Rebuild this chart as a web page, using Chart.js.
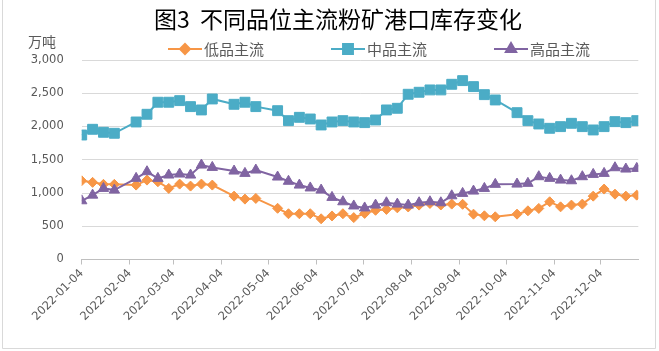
<!DOCTYPE html>
<html>
<head>
<meta charset="utf-8">
<script src="https://cdn.jsdelivr.net/npm/chart.js@4.4.0/dist/chart.umd.min.js"></script>
<style>
  html, body { margin: 0; padding: 0; background: #fff; }
  #wrap { width: 659px; height: 351px; }
</style>
</head>
<body>
<div id="wrap"><canvas id="chart" width="659" height="351"></canvas></div>
<script>
// days counted from 2022-01-04 (weekly, with holiday gaps)
const days = [0, 7, 14, 21, 35, 42, 49, 56, 63, 70, 77, 84, 98, 105, 112,
  126, 133, 140, 147, 154, 161, 168, 175, 182, 189, 196, 203, 210, 217, 224, 231, 238, 245, 252, 259, 266,
  280, 287, 294, 301, 308, 315, 322, 329, 336, 343, 350, 357];

const lowGrade = [1184, 1160, 1130, 1130, 1119, 1194, 1169, 1069, 1134, 1104, 1134, 1119, 953, 908, 918,
  770, 688, 688, 688, 612, 655, 688, 630, 693, 740, 753, 777, 790, 818, 843, 820, 833, 830, 682, 657, 642,
  682, 732, 768, 868, 792, 818, 833, 953, 1059, 983, 953, 968];

const midGrade = [1872, 1958, 1913, 1898, 2068, 2184, 2365, 2365, 2389, 2299, 2249, 2414, 2334, 2365, 2299,
  2238, 2088, 2138, 2113, 2023, 2068, 2088, 2068, 2058, 2098, 2249, 2274, 2485, 2515, 2550, 2550, 2635, 2690, 2600, 2479, 2399,
  2208, 2088, 2038, 1973, 1998, 2048, 1998, 1948, 1998, 2073, 2058, 2088];

const highGrade = [883, 968, 1069, 1044, 1220, 1320, 1220, 1270, 1285, 1270, 1420, 1385, 1330, 1295, 1345,
  1240, 1176, 1119, 1076, 1044, 934, 868, 805, 775, 818, 853, 833, 818, 853, 868, 853, 958, 994, 1029, 1069, 1130,
  1134, 1145, 1245, 1220, 1194, 1184, 1245, 1280, 1295, 1380, 1360, 1370];

const monthTicks = [0, 31, 59, 90, 120, 151, 181, 212, 243, 273, 304, 334];
const monthLabels = ['2022-01-04', '2022-02-04', '2022-03-04', '2022-04-04', '2022-05-04', '2022-06-04',
  '2022-07-04', '2022-08-04', '2022-09-04', '2022-10-04', '2022-11-04', '2022-12-04'];

const seriesNames = ['低品主流', '中品主流', '高品主流'];
const titleText = '图3  不同品位主流粉矿港口库存变化';
const unitText = '万吨';

const toPoints = vals => vals.map((v, i) => ({ x: days[i], y: v }));

const tickFont = { family: 'DejaVu Sans', size: 11.5 };
const cjk = '"Noto Sans CJK SC", sans-serif';

// title, unit, legend and frame drawn the way the excel chart does
const decorPlugin = {
  id: 'decor',
  beforeDraw(chart) {
    const ctx = chart.ctx;
    ctx.save();
    ctx.fillStyle = '#fff';
    ctx.fillRect(0, 0, chart.width, chart.height);
    ctx.strokeStyle = '#d9d9d9';
    ctx.lineWidth = 1;
    ctx.beginPath();
    ctx.moveTo(2.5, 0);
    ctx.lineTo(2.5, 348.5);
    ctx.lineTo(655.5, 348.5);
    ctx.lineTo(655.5, 0);
    ctx.stroke();
    ctx.restore();
  },
  afterDraw(chart) {
    const ctx = chart.ctx;
    ctx.save();
    ctx.fillStyle = '#000';
    ctx.font = '23px ' + cjk;
    ctx.textAlign = 'center';
    ctx.textBaseline = 'middle';
    ctx.fillText(titleText, 338, 19);

    ctx.fillStyle = '#595959';
    ctx.font = '14px ' + cjk;
    ctx.textAlign = 'left';
    ctx.fillText(unitText, 28, 42);

    const legendX = [168, 331, 494];
    const ly = 49;
    chart.data.datasets.forEach((ds, i) => {
      const x0 = legendX[i];
      ctx.strokeStyle = ds.borderColor;
      ctx.lineWidth = 2;
      ctx.beginPath();
      ctx.moveTo(x0, ly);
      ctx.lineTo(x0 + 34, ly);
      ctx.stroke();
      ctx.fillStyle = ds.pointBackgroundColor;
      ctx.strokeStyle = ds.pointBorderColor;
      Chart.helpers.drawPoint(ctx, { pointStyle: ds.pointStyle, radius: ds.pointRadius, rotation: 0, borderWidth: 1 }, x0 + 17, ly);
      ctx.fillStyle = '#595959';
      ctx.font = '15px ' + cjk;
      ctx.textAlign = 'left';
      ctx.textBaseline = 'middle';
      ctx.fillText(ds.label, x0 + 36, ly);
    });
    ctx.restore();
  }
};

function makeSeries(label, vals, color, style, radius, order) {
  return {
    label: label,
    data: toPoints(vals),
    borderColor: color,
    backgroundColor: color,
    pointBackgroundColor: color,
    pointBorderColor: color,
    borderWidth: 2,
    pointStyle: style,
    pointRadius: radius,
    pointBorderWidth: 1,
    tension: 0,
    order: order
  };
}

new Chart(document.getElementById('chart').getContext('2d'), {
  type: 'line',
  data: {
    datasets: [
      makeSeries(seriesNames[0], lowGrade, '#F79646', 'rectRot', 5, 3),
      makeSeries(seriesNames[1], midGrade, '#4BACC6', 'rect', 7, 2),
      makeSeries(seriesNames[2], highGrade, '#8064A2', 'triangle', 6, 1)
    ]
  },
  options: {
    responsive: false,
    animation: false,
    devicePixelRatio: 1,
    layout: { padding: { top: 60, right: 20.7, bottom: 0, left: 0 } },
    scales: {
      x: {
        type: 'linear',
        min: 0,
        max: 358,
        afterFit: scale => { scale.height = 91.5; },
        afterBuildTicks: scale => { scale.ticks = monthTicks.map(v => ({ value: v })); },
        ticks: {
          autoSkip: false,
          minRotation: 45,
          maxRotation: 45,
          padding: 2,
          color: '#595959',
          font: tickFont,
          callback: (value, index) => monthLabels[index]
        },
        grid: {
          drawOnChartArea: false,
          drawTicks: true,
          tickLength: 5,
          color: '#bfbfbf'
        },
        border: { display: true, color: '#bfbfbf' }
      },
      y: {
        min: 0,
        max: 3000,
        afterFit: scale => { scale.width = 81.7; },
        ticks: {
          stepSize: 500,
          padding: 18,
          color: '#595959',
          font: tickFont,
          callback: value => value.toLocaleString('en-US')
        },
        grid: { color: '#d9d9d9', drawTicks: false },
        border: { display: false }
      }
    },
    plugins: {
      legend: { display: false },
      title: { display: false },
      tooltip: { enabled: false }
    }
  },
  plugins: [decorPlugin]
});
</script>
</body>
</html>
